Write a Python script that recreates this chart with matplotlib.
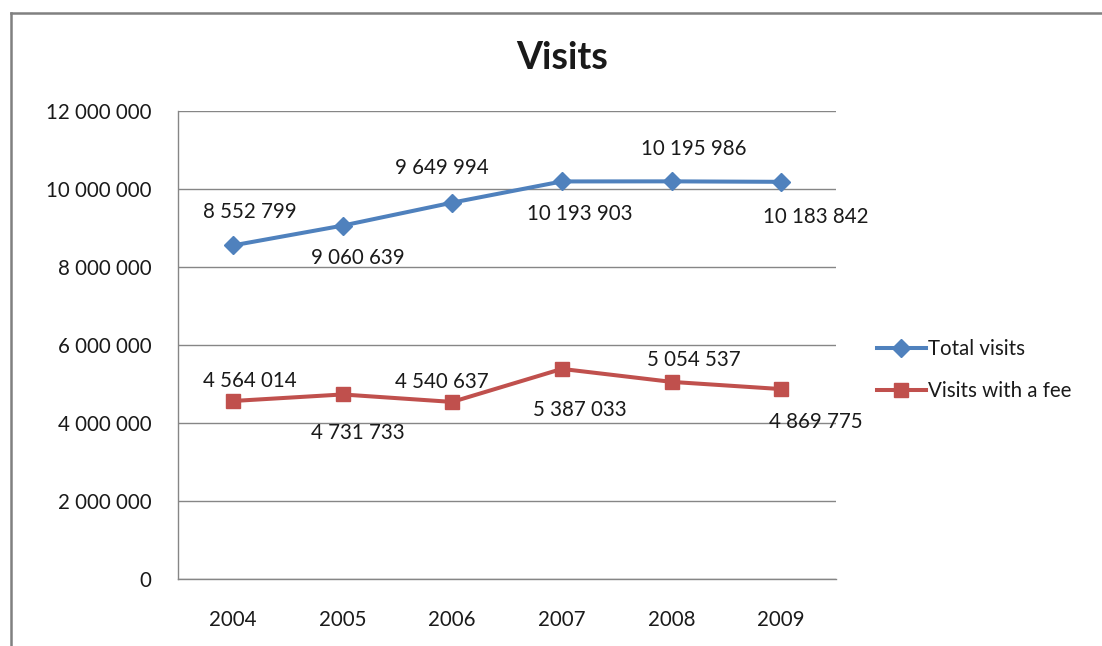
"""Visits line chart, Excel 2007 look."""
import matplotlib
matplotlib.use("Agg")
import matplotlib.pyplot as plt
from matplotlib.lines import Line2D
from matplotlib.ticker import FuncFormatter

years = ["2004", "2005", "2006", "2007", "2008", "2009"]
total_visits = [8552799, 9060639, 9649994, 10193903, 10195986, 10183842]
fee_visits = [4564014, 4731733, 4540637, 5387033, 5054537, 4869775]
series_names = ["Total visits", "Visits with a fee"]

BLUE = "#4F81BD"
RED = "#C0504D"
GRID = "#868686"
TXT = "#1a1a1a"

plt.rcParams["font.family"] = ["Lato", "DejaVu Sans"]


def spaced(v, pos=None):
    return f"{int(v):,}".replace(",", " ")


fig = plt.figure(figsize=(11.02, 6.46), dpi=100)
W, H = 1102, 646
ax = fig.add_axes([178 / W, 1 - 579 / H, (836 - 178) / W, (579 - 111) / H])

x = list(range(len(years)))
ax.plot(x, total_visits, color=BLUE, lw=2.9, marker="D", ms=9,
        label=series_names[0], zorder=3)
ax.plot(x, fee_visits, color=RED, lw=2.9, marker="s", ms=10.5,
        label=series_names[1], zorder=3)

# data labels alternate above / below the markers, Excel-style
blue_offsets = [(17, 33), (15, -32), (-10, 35), (18, -33), (22, 32), (35, -35)]
red_offsets = [(17, 20), (15, -39), (-10, 20), (18, -41), (22, 22), (35, -33)]
for series, offs in ((total_visits, blue_offsets), (fee_visits, red_offsets)):
    for xi, v, (dx, dy) in zip(x, series, offs):
        ax.annotate(spaced(v), (xi, v), xytext=(dx, dy),
                    textcoords="offset pixels", ha="center", va="center",
                    fontsize=14.8, color=TXT)

ax.set_xlim(-0.5, len(years) - 0.5)
ax.set_ylim(0, 12000000)
ax.set_yticks(range(0, 12000001, 2000000))
ax.yaxis.set_major_formatter(FuncFormatter(spaced))
ax.set_xticks(x)
ax.set_xticklabels(years)
ax.tick_params(length=0, labelsize=14.8, colors=TXT)
ax.tick_params(axis="y", pad=19)
ax.tick_params(axis="x", pad=22)
ax.grid(axis="y", color=GRID, lw=1)
ax.set_axisbelow(True)
for side in ("top", "right"):
    ax.spines[side].set_visible(False)
for side in ("left", "bottom"):
    ax.spines[side].set_color(GRID)
    ax.spines[side].set_linewidth(1)

fig.text(562 / W, 1 - 58 / H, "Visits", ha="center", va="center",
         fontsize=27, fontweight="bold", color=TXT)

fig.legend(handles=ax.get_lines(), labels=series_names, loc="center left",
           bbox_to_anchor=(858 / W, 1 - 370 / H), frameon=False,
           fontsize=14.8, handlelength=2.4, handletextpad=0.1,
           labelspacing=1.05, labelcolor=TXT)

# chart-area border (cut by the image edge on the right and bottom)
top = 1 - 13 / H
fig.add_artist(Line2D([11 / W, 1], [top, top], color="#808080", lw=1.8,
                      transform=fig.transFigure))
fig.add_artist(Line2D([11 / W, 11 / W], [0, top], color="#808080", lw=1.8,
                      transform=fig.transFigure))

fig.savefig("out.png", dpi=100)
